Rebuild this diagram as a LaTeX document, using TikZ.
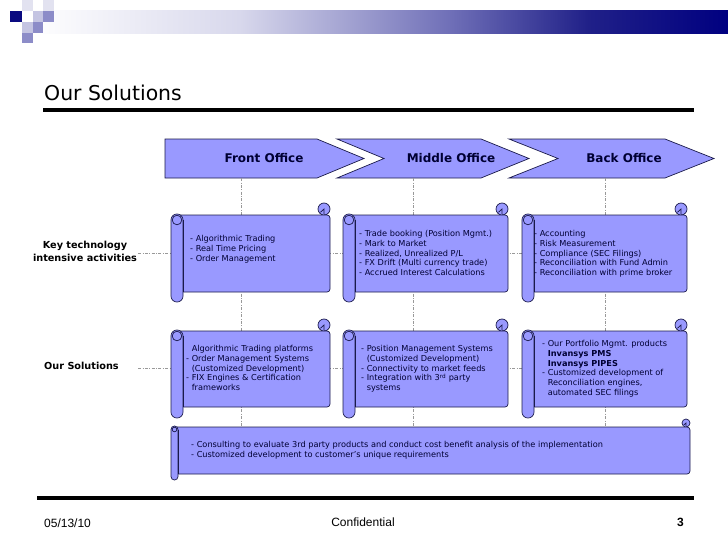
\documentclass[tikz,border=0pt]{standalone}
\usepackage{fontspec}
\setmainfont{DejaVu Sans}
\newfontfamily\footfont{Liberation Sans}
\definecolor{scrollfill}{HTML}{9999FF}
\definecolor{edgecol}{HTML}{1A1A4A}
\definecolor{txt}{HTML}{000033}
\definecolor{hdrA}{HTML}{D8D8EC}
\definecolor{hdrB}{HTML}{7070B8}
\definecolor{hdrC}{HTML}{202088}
\definecolor{hdrD}{HTML}{000080}
\definecolor{sqdark}{HTML}{0A0A80}
\definecolor{sqmed}{HTML}{8C8CC8}
\definecolor{sqlight}{HTML}{C4C4E2}
\definecolor{sqpale}{HTML}{E2E2F0}
\pgfdeclarehorizontalshading{hdrshade}{100bp}{color(0bp)=(white); color(25bp)=(white); color(40bp)=(hdrA); color(55bp)=(hdrB); color(65bp)=(hdrC); color(75bp)=(hdrD); color(100bp)=(hdrD)}
\newcommand\scrollshape[7]{% L T R B RB w c
  \filldraw[scrollsty] ({#3-#7},{#2-#7}) circle[radius=#7];
  \filldraw[scrollsty, rounded corners=3pt] ({#1+#6/2},#2) rectangle (#3,#4);
  \draw[scrollsty] ({#3-#7},#2) -- ({#3-#7},{#2-#7}) -- ({#3-#7-#7*0.6},{#2-#7*0.45});
  \filldraw[scrollsty, rounded corners={(#6/2-0.1)*1pt}] (#1,{#2-1}) rectangle ({#1+#6},#5);
  \draw[scrollsty] ({#1+#6/2},{#2+#6/2-1}) circle[radius={#6/2-1.2}];
  \draw[scrollsty] ({#1+#6},{#2+#6/2-1}) -- ({#1+#6},#4);
}
\begin{document}
\begin{tikzpicture}[x=1pt,y=-1pt,
  scrollsty/.style={fill=scrollfill, draw=edgecol, line width=0.7pt},
  chev/.style={fill=scrollfill, draw=edgecol, line width=0.7pt},
  chevtext/.style={font=\fontsize{12}{14}\selectfont\bfseries, text=txt},
  guide/.style={draw=gray!80, line width=0.6pt, dash pattern=on 3pt off 1.5pt on 0.8pt off 1.5pt},
  stext/.style={anchor=north west, inner sep=0pt, align=left, text=txt, font=\fontsize{8.2}{9.75}\selectfont},
  lbl/.style={font=\fontsize{9.7}{13}\selectfont\bfseries, text=black, inner sep=0pt},
  foot/.style={font=\footfont\fontsize{12}{14}\selectfont, inner sep=0pt}]
\useasboundingbox (0,0) rectangle (728,546);
% header band
\shade[shading=hdrshade] (30,10) rectangle (728,33);
% logo squares
\fill[sqpale] (22,0) rectangle (33,11);
\fill[sqpale] (43,0) rectangle (54,11);
\fill[sqdark] (10,11) rectangle (22,22);
\fill[sqlight] (33,11) rectangle (43,22);
\fill[sqmed] (43,11) rectangle (54,22);
\fill[sqlight] (22,22) rectangle (33,33);
\fill[sqmed] (33,22) rectangle (43,33);
\fill[sqmed] (22,33) rectangle (43,43);
\fill[white] (33,33) rectangle (43,43);
% title
\node[anchor=base west, inner sep=0pt, font=\fontsize{20.4}{24}\selectfont] (title) at (44,100) {Our Solutions};
\coordinate (tl) at (43,109.5); \coordinate (tr) at (694,109.5);
\draw[line width=4pt] (tl) -- (tr);
% chevrons
\filldraw[chev] (165,139) -- (317,139) -- (364,158.5) -- (317,178) -- (165,178) -- cycle;
\filldraw[chev] (337,139) -- (481,139) -- (529,158.5) -- (481,178) -- (337,178) -- (384,158.5) -- cycle;
\filldraw[chev] (509,139) -- (665,139) -- (714,158.5) -- (665,178) -- (509,178) -- (558,158.5) -- cycle;
\node[chevtext] (front) at (264,158.5) {Front Office};
\node[chevtext] (middle) at (451,158.5) {Middle Office};
\node[chevtext] (back) at (624,158.5) {Back Office};
% guide coordinates
\coordinate (v1a) at (241,178); \coordinate (v1b) at (241,427);
\coordinate (v2a) at (413,178); \coordinate (v2b) at (413,427);
\coordinate (v3a) at (605,178); \coordinate (v3b) at (605,427);
\coordinate (h1a) at (138,253); \coordinate (h1b) at (522,253);
\coordinate (h2a) at (138,368); \coordinate (h2b) at (522,368);
\draw[guide] (v1a) -- (v1b);
\draw[guide] (v2a) -- (v2b);
\draw[guide] (v3a) -- (v3b);
\draw[guide] (h1a) -- (h1b);
\draw[guide] (h2a) -- (h2b);
% scrolls row 1
\scrollshape{171}{215}{330}{292}{302}{12}{6}
\scrollshape{343}{215}{508}{292}{302}{12}{6}
\scrollshape{522}{215}{687}{292}{302}{12}{6}
% scrolls row 2
\scrollshape{171}{331}{330}{407}{418}{12}{6}
\scrollshape{343}{331}{508}{407}{418}{12}{6}
\scrollshape{522}{331}{687}{407}{418}{12}{6}
% bottom scroll
\scrollshape{171}{427}{690}{474}{480}{7}{4}
% labels
\node[lbl, align=center] (keylbl) at (85,251) {Key technology\\intensive activities};
\node[lbl, anchor=west] (sollbl) at (44,366) {Our Solutions};
% scroll texts row 1
\node[stext, font=\fontsize{8.2}{10}\selectfont] (t11) at (190,235) {\rule{0pt}{6.5pt}- Algorithmic Trading\\- Real Time Pricing\\- Order Management};
\node[stext] (t12) at (359,230) {\rule{0pt}{6.5pt}- Trade booking (Position Mgmt.)\\- Mark to Market\\- Realized, Unrealized P/L\\- FX Drift (Multi currency trade)\\- Accrued Interest Calculations};
\node[stext] (t13) at (534,230) {\rule{0pt}{6.5pt}- Accounting\\- Risk Measurement\\- Compliance (SEC Filings)\\- Reconciliation with Fund Admin\\- Reconciliation with prime broker};
% scroll texts row 2
\node[stext] (t21) at (186,345) {\rule{0pt}{6.5pt}\phantom{- }Algorithmic Trading platforms\\- Order Management Systems\\\phantom{- }(Customized Development)\\- FIX Engines \& Certification\\\phantom{- }frameworks};
\node[stext] (t22) at (361,345) {\rule{0pt}{6.5pt}- Position Management Systems\\\phantom{- }(Customized Development)\\- Connectivity to market feeds\\- Integration with 3\textsuperscript{rd} party\\\phantom{- }systems};
\node[stext] (t23) at (542,340) {\rule{0pt}{6.5pt}- Our Portfolio Mgmt. products\\\phantom{- }\textbf{Invansys PMS}\\\phantom{- }\textbf{Invansys PIPES}\\- Customized development of\\\phantom{- }Reconciliation engines,\\\phantom{- }automated SEC filings};
% bottom text
\node[stext] (t3) at (191,441) {\rule{0pt}{6.5pt}- Consulting to evaluate 3rd party products and conduct cost benefit analysis of the implementation\\- Customized development to customer's unique requirements};
% footer
\coordinate (fl) at (37,498); \coordinate (fr) at (694,498);
\draw[line width=3.5pt] (fl) -- (fr);
\node[foot, anchor=west] (date) at (44,523) {05/13/10};
\node[foot] (conf) at (363,522) {Confidential};
\node[foot, anchor=east, font=\footfont\fontsize{12}{14}\selectfont\bfseries] (pg) at (684,522) {3};
\end{tikzpicture}
\end{document}
